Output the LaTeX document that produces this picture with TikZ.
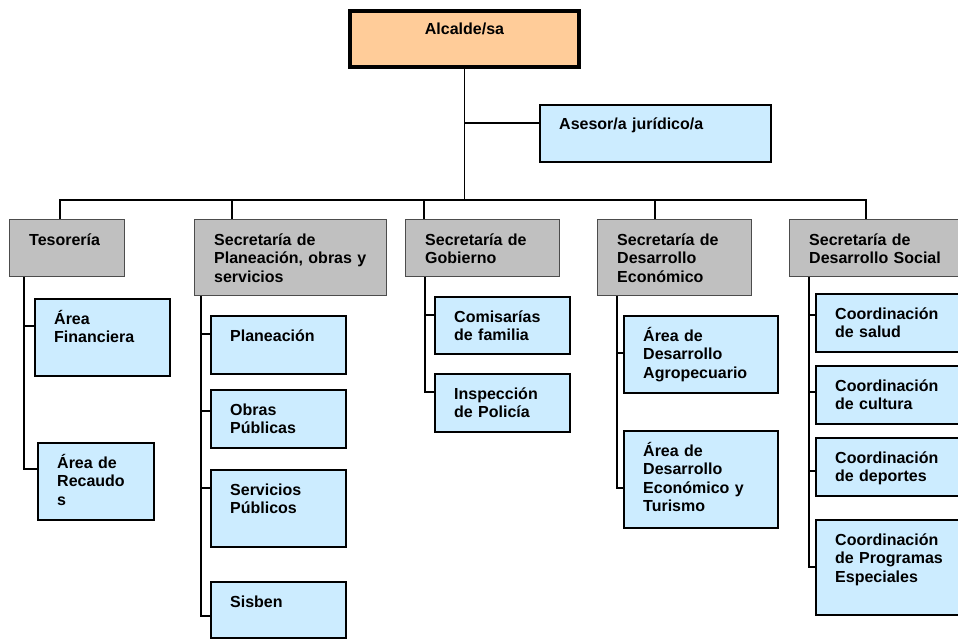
\documentclass[tikz,border=0pt]{standalone}
\usepackage{fontspec}
\setmainfont{Liberation Sans}
\usetikzlibrary{positioning, calc}

\definecolor{alcfill}{HTML}{FFCC99}
\definecolor{secgray}{HTML}{C0C0C0}
\definecolor{unitblue}{HTML}{CCECFF}

\newcommand{\orgfont}{\fontsize{16pt}{18.5pt}\selectfont\bfseries}

\begin{document}
\begin{tikzpicture}[x=1pt, y=-1pt,
    conn/.style={line width=1.8pt},
    box/.style={draw, anchor=north west, inner sep=0pt},
    headbox/.style={box, fill=alcfill, line width=4pt},
    secbox/.style={box, fill=secgray, draw=black!70, line width=1pt},
    unitbox/.style={box, fill=unitblue, line width=1.6pt},
    txt/.style={anchor=base west, align=left, text width=200pt, inner sep=0pt, font=\orgfont, xshift=20pt, yshift=-26pt},
    ctxt/.style={anchor=base, inner sep=0pt, font=\orgfont, yshift=-26pt}
    ]

    \path[use as bounding box, clip] (0,0) rectangle (958,639);

    % Mayor and adviser
    \node[headbox, minimum width=229pt, minimum height=56pt, label={[ctxt, name=alc-t]north:Alcalde/sa}] (alc) at (348,9) {};
    \node[unitbox, minimum width=231pt, minimum height=57pt, label={[txt, name=ase-t]north west:Asesor/a jurídico/a}] (ase) at (539,104) {};

    % Secretarias
    \node[secbox, minimum width=115pt, minimum height=57pt, label={[txt, name=tes-t]north west:Tesorería}] (tes) at (9,219) {};
    \node[secbox, minimum width=192pt, minimum height=76pt, label={[txt, name=pla-t]north west:{Secretaría de\\Planeación, obras y\\servicios}}] (pla) at (194,219) {};
    \node[secbox, minimum width=154pt, minimum height=57pt, label={[txt, name=gob-t]north west:{Secretaría de\\Gobierno}}] (gob) at (405,219) {};
    \node[secbox, minimum width=154pt, minimum height=76pt, label={[txt, name=eco-t]north west:{Secretaría de\\Desarrollo\\Económico}}] (eco) at (597,219) {};
    \node[secbox, minimum width=185pt, minimum height=57pt, label={[txt, name=soc-t]north west:{Secretaría de\\Desarrollo Social}}] (soc) at (789,219) {};

    % Tesoreria units
    \node[unitbox, minimum width=135pt, minimum height=77pt, label={[txt, name=fin-t]north west:{Área\\Financiera}}] (fin) at (34,298) {};
    \node[unitbox, minimum width=116pt, minimum height=77pt, label={[txt, name=rec-t]north west:{Área de\\Recaudo\\s}}] (rec) at (37,442) {};

    % Planeacion units
    \node[unitbox, minimum width=135pt, minimum height=58pt, label={[txt, name=plan-t]north west:Planeación}] (plan) at (210,315) {};
    \node[unitbox, minimum width=135pt, minimum height=58pt, label={[txt, name=obr-t]north west:{Obras\\Públicas}}] (obr) at (210,389) {};
    \node[unitbox, minimum width=135pt, minimum height=77pt, label={[txt, name=ser-t]north west:{Servicios\\Públicos}}] (ser) at (210,469) {};
    \node[unitbox, minimum width=135pt, minimum height=56pt, label={[txt, name=sis-t]north west:Sisben}] (sis) at (210,581) {};

    % Gobierno units
    \node[unitbox, minimum width=135pt, minimum height=57pt, label={[txt, name=com-t]north west:{Comisarías\\de familia}}] (com) at (434,296) {};
    \node[unitbox, minimum width=135pt, minimum height=58pt, label={[txt, name=ins-t]north west:{Inspección\\de Policía}}] (ins) at (434,373) {};

    % Desarrollo Economico units
    \node[unitbox, minimum width=154pt, minimum height=77pt, label={[txt, name=agr-t]north west:{Área de\\Desarrollo\\Agropecuario}}] (agr) at (623,315) {};
    \node[unitbox, minimum width=154pt, minimum height=97pt, label={[txt, name=tur-t]north west:{Área de\\Desarrollo\\Económico y\\Turismo}}] (tur) at (623,430) {};

    % Desarrollo Social units
    \node[unitbox, minimum width=160pt, minimum height=58pt, label={[txt, name=sal-t]north west:{Coordinación\\de salud}}] (sal) at (815,293) {};
    \node[unitbox, minimum width=160pt, minimum height=58pt, label={[txt, name=cul-t]north west:{Coordinación\\de cultura}}] (cul) at (815,365) {};
    \node[unitbox, minimum width=160pt, minimum height=58pt, label={[txt, name=dep-t]north west:{Coordinación\\de deportes}}] (dep) at (815,437) {};
    \node[unitbox, minimum width=160pt, minimum height=95pt, label={[txt, name=pro-t]north west:{Coordinación\\de Programas\\Especiales}}] (pro) at (815,519) {};

    % Trunk, adviser and bus
    \coordinate (bus-tes) at (60,200);
    \coordinate (bus-pla) at (232,200);
    \coordinate (bus-gob) at (424,200);
    \coordinate (bus-eco) at (655,200);
    \coordinate (bus-soc) at (866,200);
    \coordinate (ase-in) at ($(ase.north west)+(0,19)$);

    \draw[conn] (alc.south) -- (alc.south |- bus-tes);
    \draw[conn] (alc.south |- ase-in) -- (ase-in);
    \draw[conn, line cap=rect] (bus-tes) -- (bus-soc);
    \foreach \p in {tes, pla, gob, eco, soc}
    \draw[conn] (bus-\p) -- (bus-\p |- \p.north);

    % Columns under each secretaria
    \coordinate (col-tes) at ($(tes.south west)+(15,0)$);
    \coordinate (col-pla) at ($(pla.south west)+(7,0)$);
    \coordinate (col-gob) at ($(gob.south west)+(20,0)$);
    \coordinate (col-eco) at ($(eco.south west)+(20,0)$);
    \coordinate (col-soc) at ($(soc.south west)+(20,0)$);

    \foreach \u/\d in {fin/28, rec/27, plan/19, obr/22, ser/19, sis/35, com/19, ins/19, agr/38, tur/58, sal/22, cul/27, dep/34, pro/48}
    \coordinate (\u-in) at ($(\u.north west)+(0,\d)$);

    \foreach \p/\u in {tes/fin, pla/plan, pla/obr, pla/ser, gob/com, eco/agr, soc/sal, soc/cul, soc/dep}
    \draw[conn] (col-\p |- \u-in) -- (\u-in);

    \foreach \p/\u in {tes/rec, pla/sis, gob/ins, eco/tur, soc/pro}
    \draw[conn] (col-\p) |- (\u-in);

\end{tikzpicture}
\end{document}
